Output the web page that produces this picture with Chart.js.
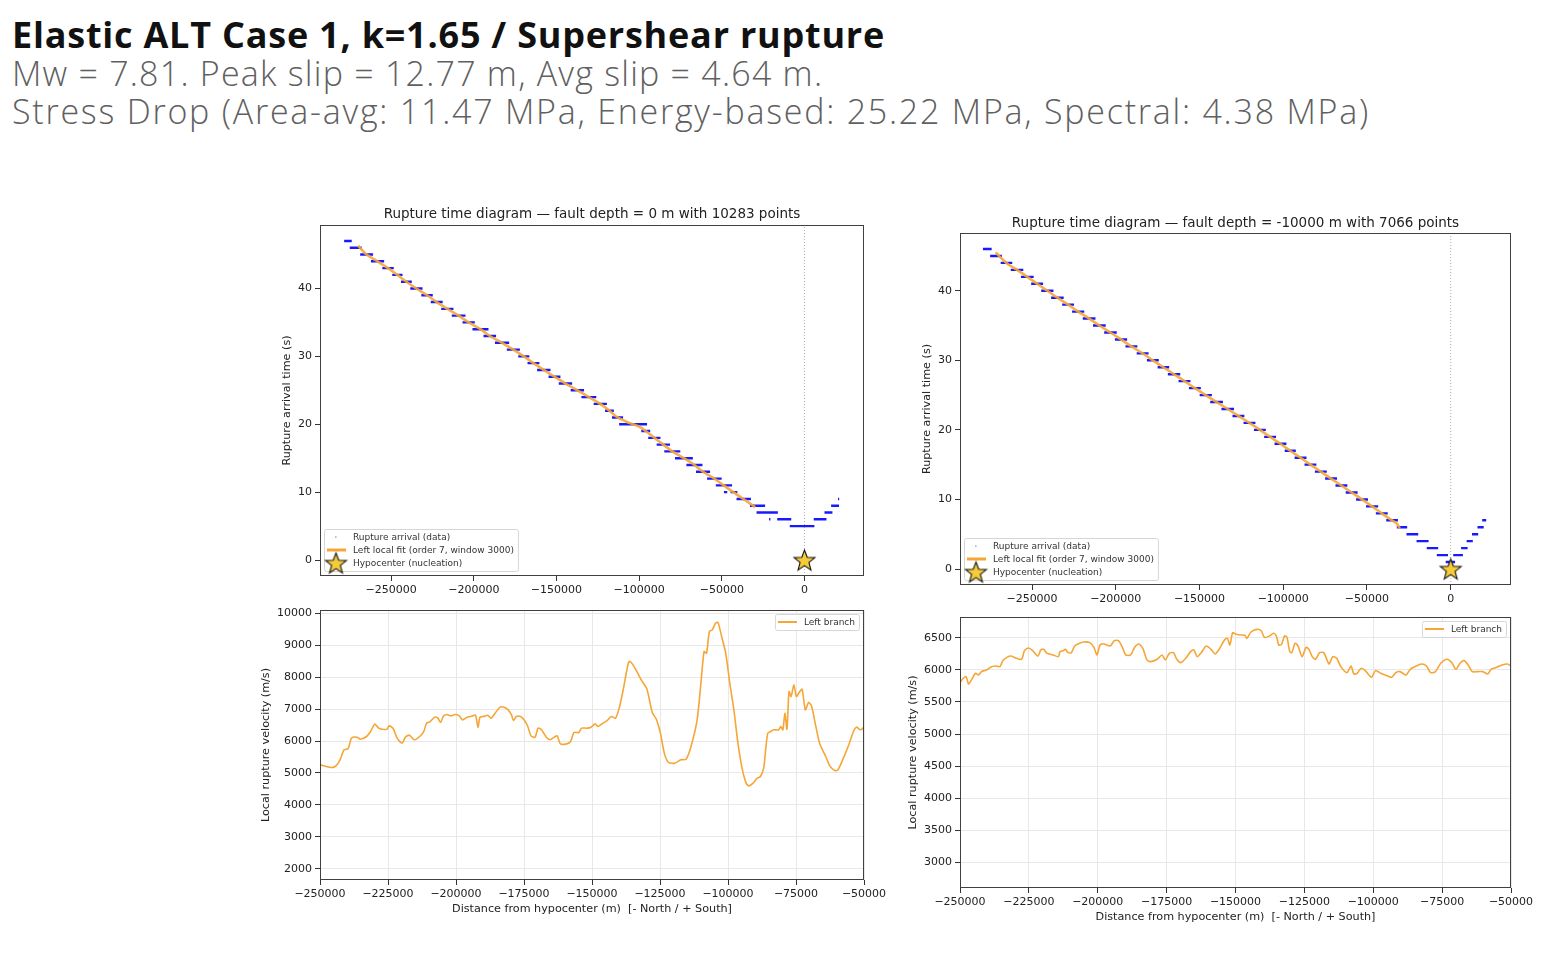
<!DOCTYPE html>
<html>
<head>
<meta charset="utf-8">
<title>Elastic ALT Case 1 - rupture time diagrams</title>
<script src="https://cdn.jsdelivr.net/npm/chart.js@4.4.1/dist/chart.umd.min.js"></script>
<style>
  body { margin: 0; background: #fff; width: 1566px; height: 966px; position: relative; overflow: hidden; }
  .head { position: absolute; left: 12px; white-space: nowrap; font-family: "Open Sans", "Noto Sans", sans-serif; line-height: 1; }
  #h1 { top: 17px; font-size: 36px; font-weight: 700; color: #111; }
  #h2 { top: 56px; font-size: 34px; font-weight: 300; color: #606060; }
  #h3 { top: 94px; font-size: 34px; font-weight: 300; color: #606060; }
  .box { position: absolute; }
</style>
</head>
<body>
<div class="head" id="h1">Elastic ALT Case 1, k=1.65 / Supershear rupture</div>
<div class="head" id="h2">Mw = 7.81. Peak slip = 12.77 m, Avg slip = 4.64 m.</div>
<div class="head" id="h3">Stress Drop (Area-avg: 11.47 MPa, Energy-based: 25.22 MPa, Spectral: 4.38 MPa)</div>

<div class="box" id="tl"><canvas></canvas></div>
<div class="box" id="tr"><canvas></canvas></div>
<div class="box" id="bl"><canvas></canvas></div>
<div class="box" id="br"><canvas></canvas></div>

<script>
// ---- data ----

// rupture arrival steps at depth 0 m: [time s, x start m, x end m]
const stepsDepth0 = [
  [47, -278400, -273800], [46, -275000, -267800], [45, -268700, -260900],
  [44, -262200, -254200], [43, -255300, -248400], [42, -249300, -243100],
  [41, -244000, -237500], [40, -238400, -231000], [39, -231700, -224800],
  [38, -226000, -218800], [37, -219700, -212300], [36, -213300, -205000],
  [35, -206800, -199400], [34, -200800, -191100], [33, -194100, -186500],
  [32, -187200, -178600], [31, -180000, -172100], [30, -173100, -166400],
  [29, -167500, -160300], [28, -161700, -153600], [27, -154800, -147600],
  [26, -148600, -140500], [25, -141400, -133300], [24, -134900, -125900],
  [23, -127500, -119500], [22, -120600, -115300], [21, -116400, -109700],
  [20, -112100, -95200], [19, -98700, -93300], [18, -94500, -87100],
  [17, -89400, -81300], [16, -84800, -75100], [15, -78300, -67500],
  [14, -71400, -61700], [13, -65600, -57100], [12, -58900, -50100],
  [11, -53600, -43800], [10, -48700, -46700], [10, -44700, -40600],
  [9, -41100, -32400], [8, -33000, -23800], [7, -29000, -16100],
  [6, -21400, -20600], [6, -16500, -8000], [5, -8900, 6000],
  [6, 5600, 13300], [7, 12100, 16900], [8, 16100, 20900], [9, 20300, 21000]
];
// local fit at depth 0 m
const fitDepth0X = [-270000, -264800, -258200, -251850, -246200, -240750, -234700, -228250,
  -222400, -216000, -209150, -203100, -195950, -190300, -182900, -176050, -169750, -163900,
  -157650, -151200, -144550, -137350, -130400, -123500, -117950, -113050, -106000, -99500,
  -96000, -90800, -85350, -79950, -72900, -66550, -61350, -54500, -48900, -43000, -37000, -29800];
const fitDepth0T = [46.3, 45, 44, 43, 42, 41, 40, 39, 38, 37, 36, 35, 34, 33, 32, 31, 30, 29,
  28, 27, 26, 25, 24, 23, 22, 21, 20.2, 19.6, 19, 18, 17, 16, 15, 14, 13, 12, 11, 10, 9, 7.8];

// rupture arrival steps at depth -10000 m
const stepsDepth10k = [
  [46, -279300, -274100], [45, -275000, -268000], [44, -268700, -261800],
  [43, -262700, -255200], [42, -256600, -249000], [41, -250500, -243400],
  [40, -244500, -237200], [39, -238600, -231100], [38, -232000, -224900],
  [37, -226100, -218800], [36, -219700, -212100], [35, -213600, -206000],
  [34, -206900, -199400], [33, -200500, -193200], [32, -194200, -187100],
  [31, -187500, -180400], [30, -181400, -174300], [29, -175000, -168100],
  [28, -168900, -161500], [27, -162500, -155400], [26, -156300, -149200],
  [25, -149900, -142600], [24, -143600, -136000], [23, -136900, -129400],
  [22, -130300, -123200], [21, -123700, -116600], [20, -117500, -110400],
  [19, -111400, -104300], [18, -105200, -98100], [17, -99100, -92500],
  [16, -93200, -86100], [15, -87300, -80200], [14, -81100, -74000],
  [13, -75000, -67900], [12, -68800, -61700], [11, -62700, -55600],
  [10, -56500, -49400], [9, -50600, -43300], [8, -44700, -37600],
  [7, -38500, -31500], [6, -32200, -26000], [5, -26400, -19400],
  [4, -20400, -13200], [3, -14300, -7500], [2, -8300, -1600],
  [1, -3000, 2600], [2, 1500, 7300], [3, 6200, 10100], [4, 9500, 13200],
  [5, 12700, 16400], [6, 16000, 19700], [7, 18800, 21200]
];
const fitDepth10kX = [-271700, -265250, -258950, -252800, -246950, -240850, -234850, -228450,
  -222450, -215900, -209800, -203150, -196850, -190650, -183950, -177850, -171550, -165200,
  -158950, -152750, -146250, -139800, -133150, -126750, -120150, -113950, -107850, -101650,
  -95800, -89650, -83750, -77550, -71450, -65250, -59150, -52950, -46950, -41150, -35000,
  -32000, -30500];
const fitDepth10kT = [45.5, 44, 43, 42, 41, 40, 39, 38, 37, 36, 35, 34, 33, 32, 31, 30, 29, 28,
  27, 26, 25, 24, 23, 22, 21, 20, 19, 18, 17, 16, 15, 14, 13, 12, 11, 10, 9, 8, 7, 6.5, 5.85];

// local rupture velocity, depth 0 m
const velDepth0X = [-250000, -245650, -244140, -242640, -241140, -239640, -238440, -236340,
  -235140, -232890, -231390, -229880, -228380, -225380, -224620, -223120, -221620, -219820,
  -218620, -217120, -215320, -213370, -211870, -210820, -209620, -207820, -206620, -205720,
  -204520, -203320, -201820, -200320, -198820, -197620, -196120, -193870, -192820, -191920,
  -191170, -189820, -188320, -187120, -185620, -183820, -182320, -180810, -179610, -178860,
  -177810, -176310, -174810, -173610, -172410, -170910, -169860, -168810, -167910, -166710,
  -165360, -163860, -162810, -161610, -159360, -157860, -156660, -154860, -153810, -151860,
  -150360, -148860, -147810, -146310, -144360, -142860, -141350, -139850, -138350, -137300,
  -136400, -135350, -133850, -131900, -129800, -127850, -126350, -124850, -123350, -121850,
  -119600, -117350, -115400, -113600, -111350, -109850, -108790, -107890, -106840, -105790,
  -104590, -103690, -102340, -100840, -99340, -97840, -96340, -94830, -93330, -92280, -90780,
  -89280, -88080, -86880, -86280, -85380, -84330, -83280, -81330, -80580, -79830, -79080,
  -78330, -77570, -76820, -75770, -74870, -73820, -72770, -71570, -70370, -69320, -67820,
  -66320, -64070, -62570, -60770, -59570, -57320, -55370, -53870, -52820, -51320, -50000];
const velDepth0V = [5254, 5171, 5223, 5411, 5724, 5765, 6089, 6120, 6057, 6141, 6297, 6527,
  6402, 6370, 6474, 6391, 6089, 5932, 6120, 6183, 6037, 6141, 6297, 6558, 6600, 6746, 6714,
  6579, 6787, 6829, 6787, 6829, 6787, 6662, 6735, 6787, 6808, 6433, 6746, 6766, 6808, 6714,
  6871, 7059, 7059, 6975, 6819, 6642, 6766, 6766, 6642, 6454, 6162, 6120, 6402, 6370, 6266,
  6110, 6037, 6120, 6162, 5911, 5911, 5984, 6266, 6266, 6402, 6402, 6433, 6537, 6454, 6537,
  6642, 6766, 6714, 7080, 7685, 8175, 8488, 8436, 8227, 7914, 7622, 6892, 6683, 6245, 5598,
  5327, 5306, 5411, 5432, 5828, 6662, 7914, 8801, 8749, 9426, 9478, 9687, 9708, 9270, 8749,
  7810, 6975, 5932, 5150, 4681, 4597, 4681, 4837, 4889, 5150, 5620, 6245, 6297, 6350, 6350,
  6454, 6350, 6871, 6370, 7549, 7393, 7758, 7393, 7518, 7622, 6975, 7205, 7101, 6506, 5932,
  5515, 5223, 5077, 5098, 5515, 5932, 6297, 6433, 6350, 6433];

// local rupture velocity, depth -10000 m
const velDepth10kX = [-250000, -248820, -247780, -246890, -245850, -244370, -243330, -242150,
  -240370, -238890, -237410, -235490, -234450, -232960, -231480, -229560, -227630, -226590,
  -225110, -223630, -221700, -220670, -219630, -218440, -216220, -214300, -213700, -212520,
  -211780, -210740, -209560, -208370, -206590, -205110, -202890, -201410, -200220, -199190,
  -197710, -195480, -194000, -192520, -191040, -189850, -188080, -186600, -185110, -183630,
  -182150, -180670, -178440, -176670, -175480, -174000, -172520, -171330, -169850, -168070,
  -166300, -165110, -163930, -162150, -160670, -158890, -157410, -155930, -154000, -152960,
  -152070, -151040, -150000, -148520, -146590, -145850, -144370, -142150, -140670, -139480,
  -137710, -136220, -135190, -134300, -133260, -132220, -131330, -130300, -129560, -128370,
  -127330, -125850, -124370, -123330, -122150, -120960, -119480, -118000, -116520, -115930,
  -114740, -113260, -111780, -109560, -108070, -107040, -105850, -104370, -102890, -100670,
  -99190, -97260, -94740, -93260, -91780, -90300, -88080, -86600, -84820, -82450, -80670,
  -79190, -77410, -75480, -73260, -71480, -70000, -68520, -67040, -65560, -64070, -62150,
  -60220, -58440, -57260, -55190, -53260, -51330, -50000];
const velDepth10kV = [5803, 5871, 5897, 5782, 5845, 5949, 5923, 5975, 6001, 6042, 6063, 6053,
  6146, 6198, 6219, 6183, 6167, 6302, 6344, 6302, 6219, 6313, 6323, 6261, 6235, 6209, 6287,
  6302, 6323, 6271, 6271, 6375, 6417, 6438, 6427, 6354, 6235, 6391, 6406, 6375, 6458, 6458,
  6354, 6235, 6235, 6354, 6406, 6339, 6157, 6131, 6167, 6235, 6157, 6261, 6271, 6167, 6115,
  6183, 6287, 6313, 6209, 6287, 6375, 6323, 6250, 6323, 6469, 6500, 6391, 6583, 6562, 6547,
  6542, 6495, 6594, 6635, 6614, 6510, 6531, 6573, 6531, 6391, 6401, 6531, 6510, 6287, 6271,
  6417, 6375, 6209, 6354, 6323, 6209, 6167, 6271, 6271, 6131, 6094, 6209, 6183, 6053, 5959,
  6063, 5938, 5949, 6027, 5990, 5886, 5990, 5949, 5907, 5886, 5959, 5975, 5923, 6011, 6053,
  6094, 6063, 5959, 5975, 6105, 6167, 6115, 6011, 6105, 6146, 6079, 5975, 5975, 5975, 5938,
  6011, 6042, 6079, 6094, 6063];

// ticks
const timeTicksX = [-250000, -200000, -150000, -100000, -50000, 0];
const timeTicksY = [0, 10, 20, 30, 40];
const velTicksX = [-250000, -225000, -200000, -175000, -150000, -125000, -100000, -75000, -50000];
const velTicksY0 = [2000, 3000, 4000, 5000, 6000, 7000, 8000, 9000, 10000];
const velTicksY10k = [3000, 3500, 4000, 4500, 5000, 5500, 6000, 6500];

// ---- helpers ----
const FONT = '"DejaVu Sans", sans-serif';
const BLUE = 'rgba(0, 0, 255, 0.9)';
const ORANGE = '#f5a636';
const TITLE_SIZE = 13.5;
const fmt = v => (v < 0 ? '\u2212' + Math.abs(v) : String(v));
const xy = (xs, ys) => xs.map((x, i) => ({x: x, y: ys[i]}));

function stepSegments(steps) {
  const pts = [];
  steps.forEach(([t, x0, x1]) => pts.push({x: x0, y: t}, {x: x1, y: t}, {x: x1, y: null}));
  return pts;
}

function makeStar(size) {
  const c = document.createElement('canvas');
  c.width = size; c.height = size;
  const ctx = c.getContext('2d');
  const r = size / 2 - 1.5, ri = r * 0.42, cx = size / 2, cy = size / 2 + 1;
  ctx.beginPath();
  for (let i = 0; i < 10; i++) {
    const a = -Math.PI / 2 + i * Math.PI / 5;
    const rr = i % 2 ? ri : r;
    ctx.lineTo(cx + rr * Math.cos(a), cy + rr * Math.sin(a));
  }
  ctx.closePath();
  ctx.fillStyle = '#f5cb3a';
  ctx.fill();
  ctx.lineWidth = 1.1;
  ctx.strokeStyle = '#111';
  ctx.stroke();
  return c;
}
const star = makeStar(25);

const framePlugin = {
  id: 'frame',
  afterDatasetsDraw(chart) {
    const {ctx, chartArea: a} = chart;
    ctx.save();
    ctx.strokeStyle = '#404040';
    ctx.lineWidth = 1;
    ctx.strokeRect(Math.round(a.left) + 0.5, Math.round(a.top) + 0.5,
      Math.round(a.right - a.left) - 1, Math.round(a.bottom - a.top) - 1);
    ctx.restore();
  }
};

const boxLegend = {
  id: 'boxLegend',
  afterDraw(chart, args, o) {
    if (!o || !o.items) return;
    const {ctx, chartArea: a} = chart;
    ctx.save();
    ctx.font = o.fontSize + 'px ' + FONT;
    const textW = Math.max(...o.items.map(it => ctx.measureText(it.text).width));
    const w = o.textX + textW + 4;
    const h = o.items.length * o.rowH + 2 * o.pad;
    const x = o.corner === 'bl' ? a.left + 4 : a.right - 5 - w;
    const y = o.corner === 'bl' ? a.bottom - 5 - h : a.top + 4;
    ctx.beginPath();
    ctx.roundRect(x + 0.5, y + 0.5, w, h, 2);
    ctx.fillStyle = 'rgba(255,255,255,0.85)';
    ctx.fill();
    ctx.strokeStyle = '#d6d6d6';
    ctx.lineWidth = 1;
    ctx.stroke();
    o.items.forEach((it, i) => {
      const cy = y + o.pad + o.rowH * (i + 0.5);
      if (it.type === 'dot') {
        ctx.fillStyle = 'rgba(0,0,255,0.35)';
        ctx.fillRect(x + 11, cy - 0.7, 1.6, 1.6);
      } else if (it.type === 'line') {
        ctx.strokeStyle = ORANGE;
        ctx.lineWidth = o.lineW;
        ctx.beginPath();
        ctx.moveTo(x + 3, cy);
        ctx.lineTo(x + 22, cy);
        ctx.stroke();
      } else if (it.type === 'star') {
        ctx.drawImage(star, x + 12 - star.width / 2, cy - star.height / 2);
      }
      ctx.fillStyle = '#333';
      ctx.textBaseline = 'middle';
      ctx.fillText(it.text, x + o.textX, cy + 0.5);
    });
    ctx.restore();
  }
};

function buildChart(id, g, datasets, o) {
  const wrap = document.getElementById(id);
  const W = g.R - g.L + g.padL + g.padR;
  const H = g.B - g.T + g.padT + g.padB;
  Object.assign(wrap.style, {
    left: (g.L - g.padL) + 'px', top: (g.T - g.padT) + 'px', width: W + 'px', height: H + 'px'
  });
  const tickFont = {family: FONT, size: 11};
  const labelFont = {family: FONT, size: 11.2};
  return new Chart(wrap.querySelector('canvas'), {
    type: 'line',
    data: {datasets: datasets},
    options: {
      responsive: true,
      maintainAspectRatio: false,
      animation: false,
      events: [],
      layout: {padding: {left: 0, right: 0, top: o.title ? 0 : g.padT, bottom: 0}},
      plugins: {
        legend: {display: false},
        tooltip: {enabled: false},
        title: o.title ? {
          display: true, text: o.title, color: '#222',
          font: {family: FONT, size: TITLE_SIZE, weight: 'normal'},
          padding: {top: g.padT - TITLE_SIZE * 1.2 - o.titleGap, bottom: o.titleGap}
        } : {display: false},
        boxLegend: o.legend
      },
      scales: {
        x: {
          type: 'linear', min: o.xMin, max: o.xMax,
          afterBuildTicks: s => { s.ticks = o.xTicks.map(v => ({value: v})); },
          afterFit: s => { s.height = g.padB; },
          ticks: {callback: fmt, font: tickFont, color: '#222', padding: 3, maxRotation: 0, autoSkip: false},
          grid: {drawOnChartArea: o.grid, color: '#e8e8e8', tickLength: 5, tickColor: '#333'},
          border: {display: false},
          title: o.xTitle ? {
            display: true, text: o.xTitle, color: '#222', font: labelFont,
            padding: {top: 0, bottom: g.xTitlePad}
          } : {display: false}
        },
        y: {
          type: 'linear', min: o.yMin, max: o.yMax,
          afterBuildTicks: s => { s.ticks = o.yTicks.map(v => ({value: v})); },
          afterFit: s => { s.width = g.padL; },
          ticks: {callback: fmt, font: tickFont, color: '#222', padding: 3, autoSkip: false},
          grid: {drawOnChartArea: o.grid, color: '#e8e8e8', tickLength: 5, tickColor: '#333'},
          border: {display: false},
          title: {
            display: true, text: o.yTitle, color: '#222', font: labelFont,
            padding: {top: g.yTitlePad, bottom: 0}
          }
        },
        // empty right-hand axis that only reserves margin, so the title centres on the plot
        yr: {
          position: 'right', display: true,
          afterFit: s => { s.width = g.padR; },
          ticks: {display: false},
          grid: {display: false},
          border: {display: false}
        }
      }
    },
    plugins: [framePlugin, boxLegend]
  });
}

function timeDatasets(steps, fitX, fitT, yMin, yMax) {
  return [
    {label: 'Hypocenter (nucleation)', data: [{x: 0, y: 0}], showLine: false,
      pointStyle: star, pointRadius: 12, pointHoverRadius: 12},
    {label: 'Left local fit (order 7, window 3000)', data: xy(fitX, fitT),
      borderColor: 'rgba(245,166,54,0.9)', borderWidth: 2.6, pointRadius: 0, tension: 0.3},
    {label: 'Rupture arrival (data)', data: stepSegments(steps), borderColor: BLUE,
      borderWidth: 2.4, pointRadius: 0, spanGaps: false, tension: 0},
    {label: 'x = 0', data: [{x: 0, y: yMin}, {x: 0, y: yMax}], borderColor: '#9a9a9a',
      borderWidth: 0.8, borderDash: [1, 2], pointRadius: 0}
  ];
}

const timeLegend = {
  corner: 'bl', fontSize: 9, rowH: 13, pad: 1.5, textX: 29, lineW: 3,
  items: [
    {type: 'dot', text: 'Rupture arrival (data)'},
    {type: 'line', text: 'Left local fit (order 7, window 3000)'},
    {type: 'star', text: 'Hypocenter (nucleation)'}
  ]
};
const velLegend = {
  corner: 'tr', fontSize: 9, rowH: 13, pad: 1.5, textX: 29, lineW: 2,
  items: [{type: 'line', text: 'Left branch'}]
};

// top-left: depth 0 m
buildChart('tl', {L: 320, T: 225, R: 864, B: 576, padL: 55, padR: 55, padT: 32, padB: 25, yTitlePad: 15.3},
  timeDatasets(stepsDepth0, fitDepth0X, fitDepth0T, -2.35, 49.35),
  {title: 'Rupture time diagram \u2014 fault depth = 0 m with 10283 points', titleGap: 2,
   xMin: -293000, xMax: 36000, yMin: -2.35, yMax: 49.35, xTicks: timeTicksX, yTicks: timeTicksY,
   grid: false, yTitle: 'Rupture arrival time (s)', legend: timeLegend});

// top-right: depth -10000 m
buildChart('tr', {L: 960, T: 233, R: 1511, B: 585, padL: 55, padR: 55, padT: 32, padB: 25, yTitlePad: 15.3},
  timeDatasets(stepsDepth10k, fitDepth10kX, fitDepth10kT, -2.3, 48.3),
  {title: 'Rupture time diagram \u2014 fault depth = -10000 m with 7066 points', titleGap: 1,
   xMin: -293000, xMax: 36000, yMin: -2.3, yMax: 48.3, xTicks: timeTicksX, yTicks: timeTicksY,
   grid: false, yTitle: 'Rupture arrival time (s)', legend: timeLegend});

// bottom-left: velocity, depth 0 m
buildChart('bl', {L: 320, T: 610, R: 864, B: 880, padL: 70, padR: 30, padT: 10, padB: 40, yTitlePad: 9, xTitlePad: 4},
  [{label: 'Left branch', data: xy(velDepth0X, velDepth0V), borderColor: ORANGE,
    borderWidth: 1.6, pointRadius: 0, tension: 0.25}],
  {xMin: -250000, xMax: -50000, yMin: 1650, yMax: 10100, xTicks: velTicksX, yTicks: velTicksY0,
   grid: true, yTitle: 'Local rupture velocity (m/s)',
   xTitle: 'Distance from hypocenter (m)  [- North / + South]', legend: velLegend});

// bottom-right: velocity, depth -10000 m
buildChart('br', {L: 960, T: 617, R: 1511, B: 888, padL: 70, padR: 30, padT: 10, padB: 40, yTitlePad: 16, xTitlePad: 4},
  [{label: 'Left branch', data: xy(velDepth10kX, velDepth10kV), borderColor: ORANGE,
    borderWidth: 1.6, pointRadius: 0, tension: 0.25}],
  {xMin: -250000, xMax: -50000, yMin: 2594, yMax: 6828, xTicks: velTicksX, yTicks: velTicksY10k,
   grid: true, yTitle: 'Local rupture velocity (m/s)',
   xTitle: 'Distance from hypocenter (m)  [- North / + South]', legend: velLegend});

// stretch the heading lines to the widths seen in the picture
function fitHead(id, target) {
  const el = document.getElementById(id);
  const w = el.getBoundingClientRect().width;
  el.style.letterSpacing = ((target - w) / el.textContent.length).toFixed(2) + 'px';
}
document.fonts.ready.then(() => {
  fitHead('h1', 873);
  fitHead('h2', 811);
  fitHead('h3', 1358);
});
</script>
</body>
</html>
